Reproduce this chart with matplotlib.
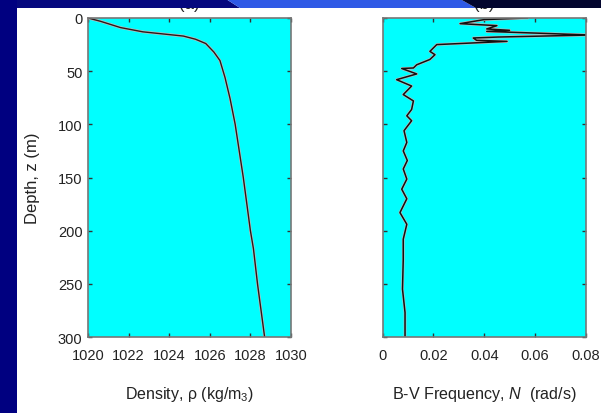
import matplotlib
matplotlib.use("Agg")
import matplotlib.pyplot as plt
import matplotlib.patheffects as pe
from matplotlib.patches import Polygon, Rectangle

plt.rcParams.update({
    "font.family": ["Liberation Sans", "DejaVu Sans"],
    "mathtext.fontset": "custom",
    "mathtext.rm": "Liberation Sans",
    "mathtext.it": "Liberation Sans:italic",
})

# density profile (left panel)
rho_depth = [0, 3, 9, 13, 17, 20, 24, 32, 40, 56, 76, 100, 150, 200, 217, 250, 300]
rho_vals = [1020.0, 1020.6, 1021.6, 1022.7, 1024.7, 1025.3, 1025.8, 1026.2,
            1026.5, 1026.75, 1027.0, 1027.25, 1027.65, 1028.0, 1028.15, 1028.35, 1028.7]

# B-V frequency profile (right panel)
n_depth = [0, 1.5, 5.3, 7.2, 10.3, 11.6, 12.6, 16, 17.9, 18.8, 21, 22, 25, 31.4, 34.5,
           39, 44, 47, 47.5, 52.6, 58, 64, 72, 78, 86, 92, 96.6, 106, 117, 125, 134,
           142, 151.5, 161, 170, 183, 194, 208, 227, 255, 277, 299]
n_vals = [0.057, 0.040, 0.0305, 0.045, 0.041, 0.050, 0.041, 0.082, 0.0455, 0.0357,
          0.037, 0.049, 0.0213, 0.0186, 0.0206, 0.0186, 0.0134, 0.0121, 0.0075,
          0.0134, 0.0055, 0.0114, 0.0081, 0.0121, 0.0114, 0.0095, 0.0114, 0.0084,
          0.0095, 0.0081, 0.0097, 0.0081, 0.0095, 0.0075, 0.0095, 0.0068, 0.0095,
          0.0081, 0.0081, 0.0078, 0.0088, 0.0088]

depth_ticks = [0, 50, 100, 150, 200, 250, 300]
rho_ticks = [1020, 1022, 1024, 1026, 1028, 1030]
n_ticks = [0, 0.02, 0.04, 0.06, 0.08]
n_tick_labels = ["0", "0.02", "0.04", "0.06", "0.08"]

W, H = 601, 414
fig = plt.figure(figsize=(W / 100, H / 100), dpi=100, facecolor="white")

ax1 = fig.add_axes([88 / W, 1 - 338 / H, 203 / W, 319 / H])
ax2 = fig.add_axes([382.7 / W, 1 - 338 / H, 203 / W, 319 / H])

stroke = [pe.Stroke(linewidth=2.0, foreground="#bbbbbb"), pe.Normal()]
ax1.plot(rho_vals, rho_depth, color="#2a1a1a", lw=1.0, path_effects=stroke)
ax2.plot(n_vals, n_depth, color="#111111", lw=1.1, path_effects=stroke)

for ax in (ax1, ax2):
    ax.set_facecolor("#00ffff")
    ax.set_ylim(300, 0)
    ax.set_yticks(depth_ticks)
    for s in ax.spines.values():
        s.set_color("#777777")
        s.set_linewidth(1.2)
    ax.tick_params(direction="in", length=3, width=1, color="#333333",
                   top=True, right=True, labelsize=10.5, labelcolor="#222222")
    ax.tick_params(axis="x", pad=8)
    ax.tick_params(axis="y", pad=4)

ax1.set_xlim(1020, 1030)
ax1.set_xticks(rho_ticks)
ax1.set_ylabel("Depth, z (m)", fontsize=12, color="#222222", labelpad=13)
ax1.set_xlabel(r"Density, ρ (kg/m$_{\mathrm{3}}$)", fontsize=11.5,
               color="#222222", labelpad=16)
ax1.set_title("(a)", fontsize=12, pad=7, color="#222222")

ax2.set_xlim(0, 0.08)
ax2.set_xticks(n_ticks)
ax2.set_xticklabels(n_tick_labels)
ax2.set_yticklabels([])
ax2.set_xlabel(r"B-V Frequency, $N$  (rad/s)", fontsize=11.6,
               color="#222222", labelpad=16)
ax2.set_title("(b)", fontsize=12, pad=7, color="#222222")

# slide decoration: top band and left strip
band = fig.add_axes([0, 1 - 9 / H, 1, 9 / H])
band.set_xlim(0, W)
band.set_ylim(9, 0)
band.axis("off")
band.set_zorder(10)
band.add_patch(Polygon([(0, 0), (226, 0), (240, 9), (0, 9)], closed=True,
                       fc="#06087e", ec="none"))
band.add_patch(Polygon([(226, 0), (460, 0), (476, 9), (240, 9)], closed=True,
                       fc="#2f5ae6", ec="none"))
band.add_patch(Polygon([(460, 0), (W, 0), (W, 9), (476, 9)], closed=True,
                       fc="#03062e", ec="none"))

fig.patches.append(Rectangle((0, 0), 17 / W, 1, transform=fig.transFigure,
                             fc="#000080", ec="none", zorder=20))

fig.savefig("out.png", dpi=100)
